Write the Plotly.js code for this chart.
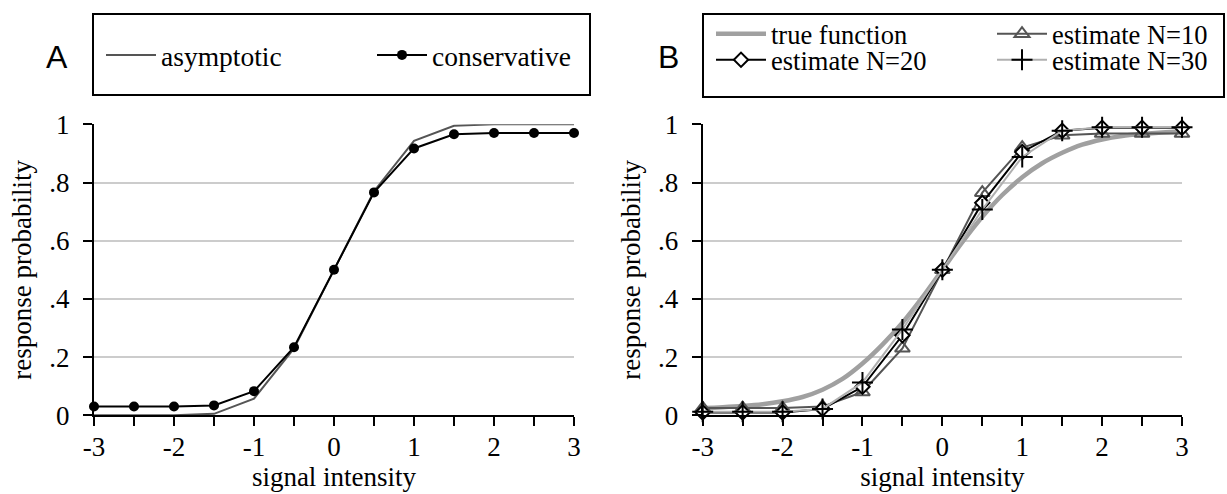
<!DOCTYPE html>
<html>
<head>
<meta charset="utf-8">
<script src="https://cdn.plot.ly/plotly-3.0.1.min.js"></script>
<style>
html,body{margin:0;padding:0;background:#fff;}
#chart{width:1227px;height:494px;}
</style>
</head>
<body>
<div id="chart"></div>
<script>
// ---- data ----
var signalX = [-3, -2.5, -2, -1.5, -1, -0.5, 0, 0.5, 1, 1.5, 2, 2.5, 3];
var asymptotic = [0.0, 0.0, 0.0, 0.005, 0.057, 0.23, 0.5, 0.77, 0.943, 0.995, 1.0, 1.0, 1.0];
var conservative = [0.03, 0.03, 0.03, 0.034, 0.083, 0.234, 0.5, 0.766, 0.917, 0.966, 0.97, 0.97, 0.97];

var trueX = [-3, -2.75, -2.5, -2.25, -2, -1.75, -1.5, -1.25, -1, -0.75, -0.5, -0.25, 0,
             0.25, 0.5, 0.75, 1, 1.25, 1.5, 1.75, 2, 2.25, 2.5, 2.75, 3];
var trueY = [0.025, 0.028, 0.032, 0.038, 0.048, 0.063, 0.088, 0.125, 0.178, 0.243, 0.318, 0.405, 0.5,
             0.595, 0.682, 0.757, 0.818, 0.866, 0.902, 0.93, 0.948, 0.96, 0.967, 0.972, 0.975];
var estN10 = [0.025, 0.025, 0.025, 0.03, 0.08, 0.23, 0.5, 0.765, 0.92, 0.962, 0.968, 0.968, 0.968];
var estN20 = [0.01, 0.01, 0.01, 0.022, 0.098, 0.275, 0.5, 0.73, 0.905, 0.978, 0.988, 0.988, 0.988];
var estN30 = [0.012, 0.012, 0.012, 0.022, 0.113, 0.295, 0.5, 0.707, 0.888, 0.978, 0.99, 0.99, 0.99];

var xTickVals = [-3, -2.5, -2, -1.5, -1, -0.5, 0, 0.5, 1, 1.5, 2, 2.5, 3];
var xTickText = ['-3', '', '-2', '', '-1', '', '0', '', '1', '', '2', '', '3'];
var yTickVals = [0, 0.2, 0.4, 0.6, 0.8, 1];
var yTickText = ['0', '.2', '.4', '.6', '.8', '1'];

var SERIF = 'Liberation Serif';
var SANS = 'Liberation Sans';

var traces = [
  {x: signalX, y: asymptotic, name: 'asymptotic', mode: 'lines', xaxis: 'x', yaxis: 'y',
   line: {color: '#555555', width: 2}, legend: 'legend', cliponaxis: false},
  {x: signalX, y: conservative, name: 'conservative', mode: 'lines+markers', xaxis: 'x', yaxis: 'y',
   line: {color: '#000000', width: 2}, marker: {symbol: 'circle', size: 10, color: '#000000'},
   legend: 'legend2', cliponaxis: false},

  {x: trueX, y: trueY, name: 'true function', mode: 'lines', xaxis: 'x2', yaxis: 'y2',
   line: {color: '#a0a0a0', width: 4.5, shape: 'spline'}, legend: 'legend3', cliponaxis: false},
  {x: signalX, y: estN10, name: 'estimate N=10', mode: 'lines+markers', xaxis: 'x2', yaxis: 'y2',
   line: {color: '#555555', width: 2},
   marker: {symbol: 'triangle-up-open', size: 13, color: '#555555', line: {color: '#555555', width: 2}},
   legend: 'legend4', cliponaxis: false},
  {x: signalX, y: estN20, name: 'estimate N=20', mode: 'lines+markers', xaxis: 'x2', yaxis: 'y2',
   line: {color: '#000000', width: 2},
   marker: {symbol: 'diamond', size: 11, color: '#ffffff', line: {color: '#000000', width: 2}},
   legend: 'legend5', cliponaxis: false},
  {x: signalX, y: estN30, name: 'estimate N=30', mode: 'lines+markers', xaxis: 'x2', yaxis: 'y2',
   line: {color: '#b0b0b0', width: 2},
   marker: {symbol: 'cross-thin-open', size: 15, color: '#000000', line: {color: '#000000', width: 2}},
   legend: 'legend6', cliponaxis: false}
];

var W = 1227, H = 494;
function px(x) { return x / W; }
function py(y) { return 1 - y / H; }

function xAxis(domain, anchor) {
  return {
    domain: domain, anchor: anchor, range: [-3, 3], fixedrange: true,
    showline: true, linecolor: '#000', linewidth: 2, showgrid: false, zeroline: false,
    ticks: 'outside', ticklen: 9, tickwidth: 2, tickcolor: '#000',
    tickmode: 'array', tickvals: xTickVals, ticktext: xTickText,
    tickfont: {family: SERIF, size: 27, color: '#000'}, ticklabelstandoff: -3,
    title: {text: 'signal intensity', font: {family: SERIF, size: 27, color: '#000'}, standoff: 0},
    automargin: false
  };
}
function yAxis(domain, anchor) {
  return {
    domain: domain, anchor: anchor, range: [0, 1], fixedrange: true,
    showline: true, linecolor: '#000', linewidth: 2,
    showgrid: true, gridcolor: '#cccccc', gridwidth: 2, zeroline: false,
    ticks: 'outside', ticklen: 9, tickwidth: 2, tickcolor: '#000',
    tickmode: 'array', tickvals: yTickVals, ticktext: yTickText,
    tickfont: {family: SERIF, size: 27, color: '#000'}, ticklabelstandoff: 8,
    title: {text: 'response probability', font: {family: SERIF, size: 27, color: '#000'}, standoff: 10},
    automargin: false
  };
}

function mkLegend(x, y, fs) {
  return {
    orientation: 'h', bgcolor: 'rgba(0,0,0,0)', borderwidth: 0,
    font: {family: SERIF, size: fs, color: '#000'}, itemwidth: 50,
    xanchor: 'left', yanchor: 'middle', itemclick: false, itemdoubleclick: false,
    x: px(x), y: py(y)
  };
}

var yDom = [1 - 415.3 / H, 1 - 124.3 / H];
var layout = {
  width: W, height: H,
  margin: {l: 0, r: 0, t: 0, b: 0},
  font: {family: SERIF, size: 27, color: '#000'},
  paper_bgcolor: '#fff', plot_bgcolor: '#fff',
  showlegend: true,
  xaxis: xAxis([px(94), px(574)], 'y'),
  yaxis: yAxis(yDom, 'x'),
  xaxis2: xAxis([px(702.7), px(1182)], 'y2'),
  yaxis2: yAxis(yDom, 'x2'),
  legend: mkLegend(101, 55, 27.5),
  legend2: mkLegend(372, 55, 27.5),
  legend3: mkLegend(711, 34, 26.5),
  legend4: mkLegend(992, 34, 26.5),
  legend5: mkLegend(711, 60, 26.5),
  legend6: mkLegend(992, 60, 26.5),
  shapes: [
    {type: 'rect', xref: 'paper', yref: 'paper', x0: px(93), x1: px(590), y0: py(95), y1: py(14),
     line: {color: '#000', width: 2}, layer: 'below'},
    {type: 'rect', xref: 'paper', yref: 'paper', x0: px(703), x1: px(1224), y0: py(97), y1: py(14),
     line: {color: '#000', width: 2}, layer: 'below'}
  ],
  annotations: [
    {text: 'A', xref: 'paper', yref: 'paper', x: px(57), y: py(57), xanchor: 'center', yanchor: 'middle',
     showarrow: false, font: {family: SANS, size: 32, color: '#000'}},
    {text: 'B', xref: 'paper', yref: 'paper', x: px(668), y: py(57), xanchor: 'center', yanchor: 'middle',
     showarrow: false, font: {family: SANS, size: 32, color: '#000'}}
  ]
};

Plotly.newPlot('chart', traces, layout, {staticPlot: true, displayModeBar: false});
</script>
</body>
</html>
